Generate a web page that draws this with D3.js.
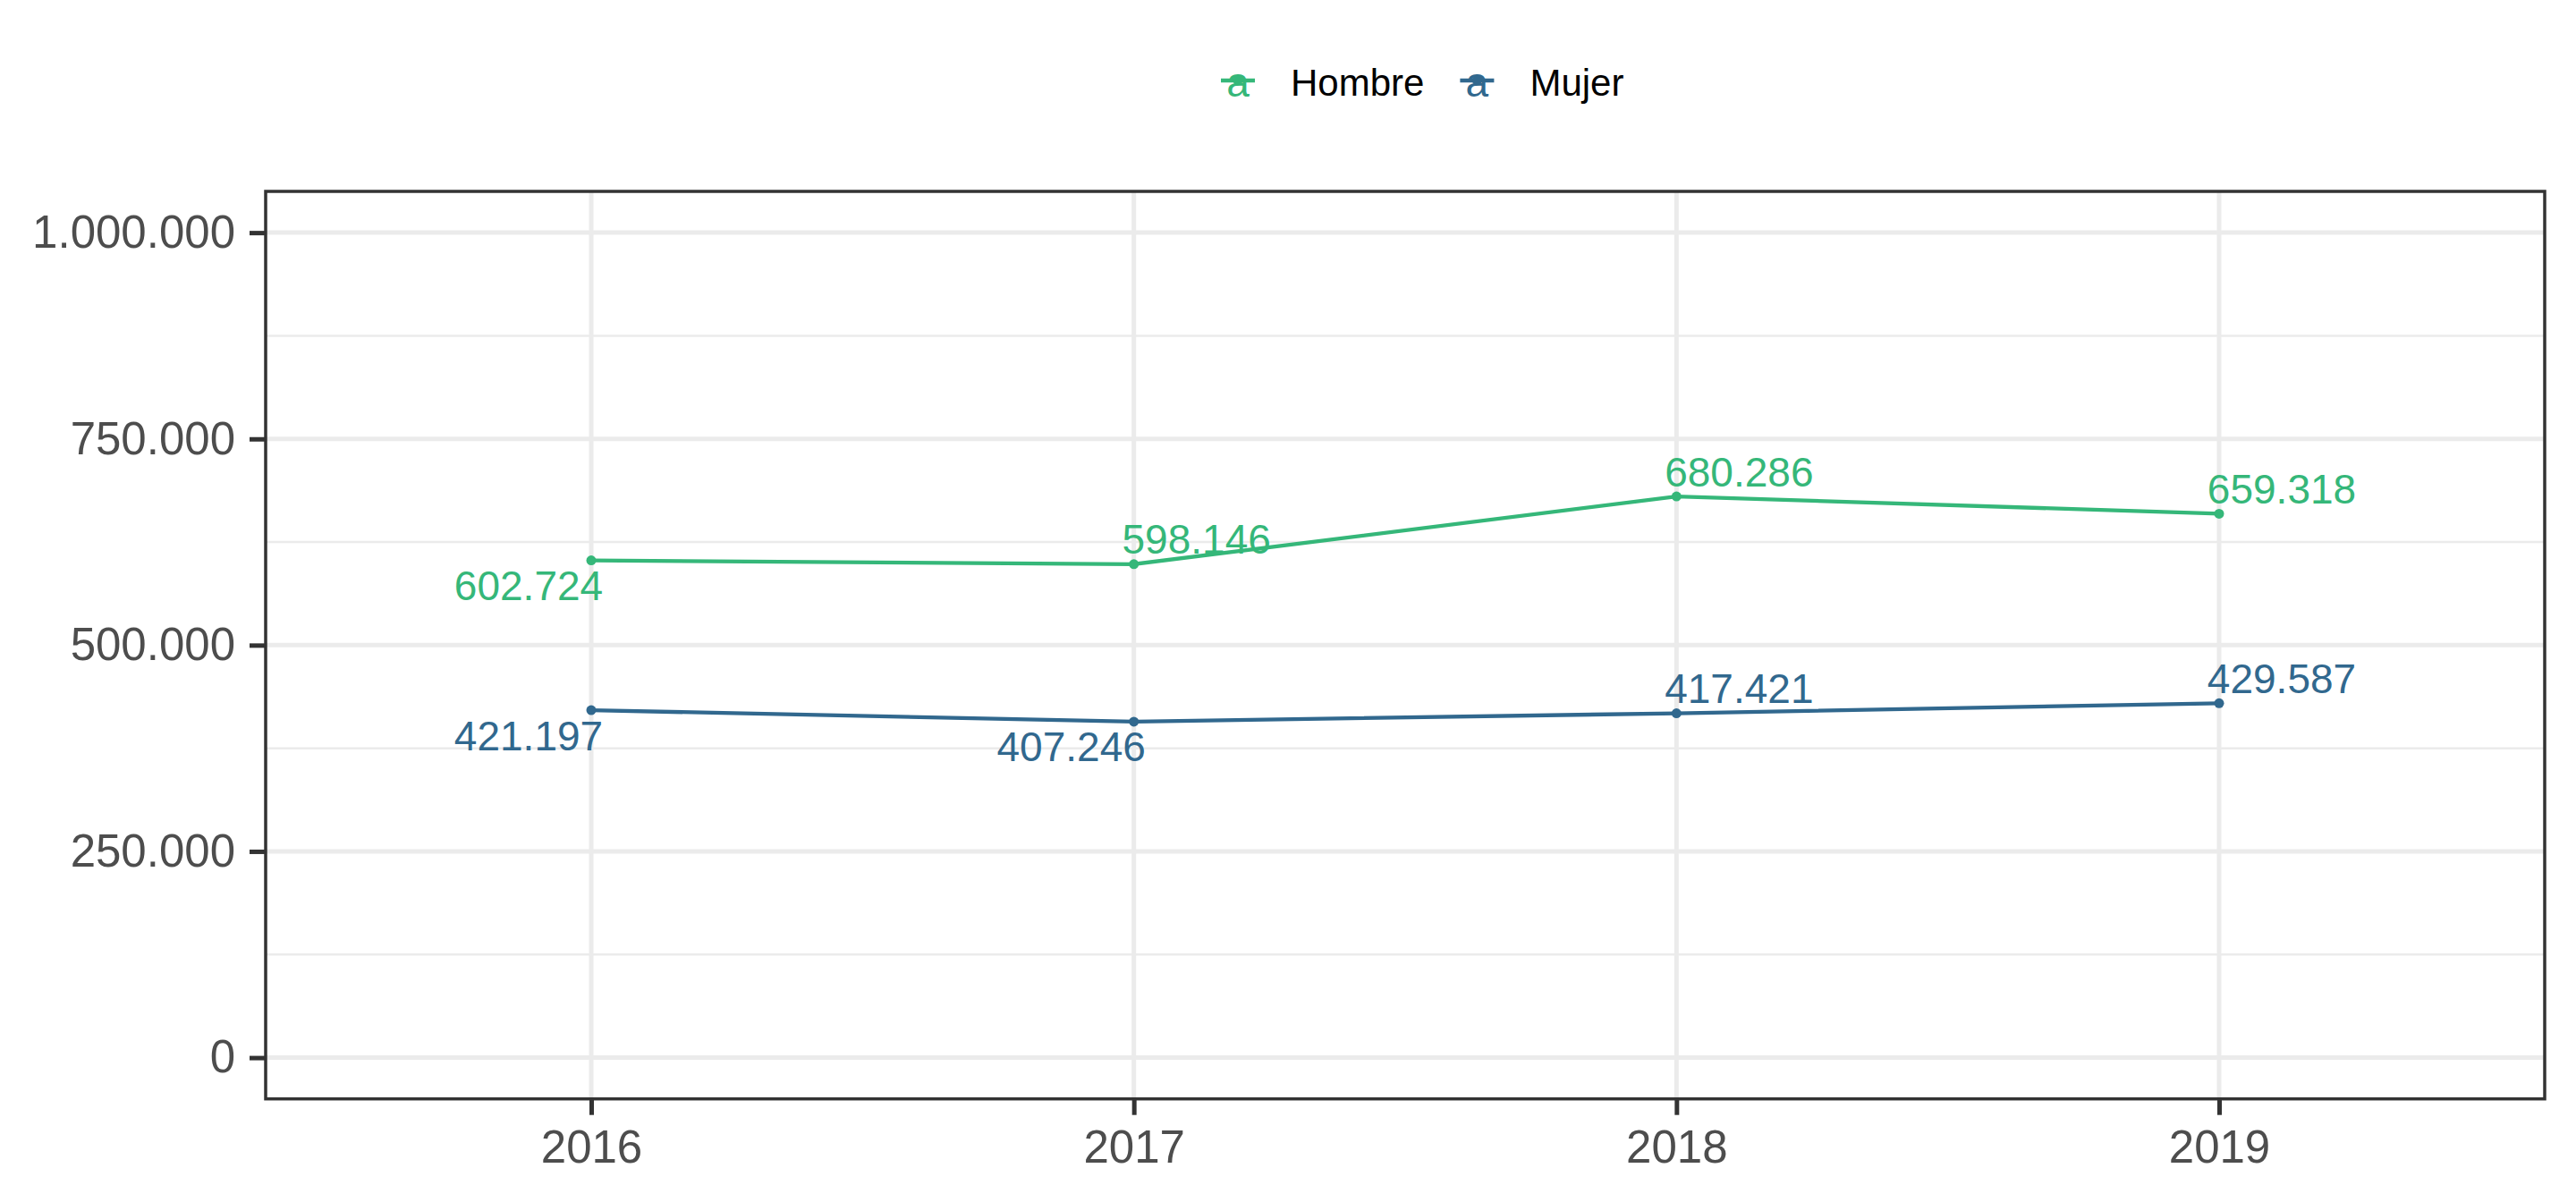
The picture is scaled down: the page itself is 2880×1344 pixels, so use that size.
<!DOCTYPE html>
<html>
<head>
<meta charset="utf-8">
<script src="https://cdn.jsdelivr.net/npm/d3@7"></script>
<style>
	html, body { margin: 0; padding: 0; background: white; }
	svg { display: block; font-family: "Liberation Sans", Arial, sans-serif; }
</style>
</head>
<body>
<script>
// datos
var years = ['2016', '2017', '2018', '2019']
var seriesNames = ['Hombre', 'Mujer']
var hombre = [602724, 598146, 680286, 659318]
var mujer = [421197, 407246, 417421, 429587]
var yTicks = [0, 250000, 500000, 750000, 1000000]
var yMinor = [125000, 375000, 625000, 875000]

// lado de la etiqueta: -1 abajo-izquierda, 1 arriba-derecha
var hombreSide = [-1, 1, 1, 1]
var mujerSide = [-1, -1, 1, 1]

var color = d3.scaleOrdinal()
	.domain(seriesNames)
	.range(['#35B779', '#31688E'])

var width = 2880,
	height = 1344

var panel = {left: 297, right: 2845, top: 214, bottom: 1228.7}

var loc = d3.formatLocale({decimal: ',', thousands: '.', grouping: [3], currency: ['', '']})
var fmt = loc.format(',')

var x = d3.scalePoint()
	.domain(years)
	.range([panel.left, panel.right])
	.padding(0.6)

var y = d3.scaleLinear()
	.domain([-50000, 1050000])
	.range([panel.bottom, panel.top])

var svg = d3.select('body').append('svg')
	.attr('width', width)
	.attr('height', height)

// grid
svg.selectAll('.minor')
	.data(yMinor)
	.enter()
	.append('line')
		.attr('x1', panel.left)
		.attr('x2', panel.right)
		.attr('y1', d => y(d))
		.attr('y2', d => y(d))
		.attr('stroke', '#EBEBEB')
		.attr('stroke-width', 2.5)

svg.selectAll('.major')
	.data(yTicks)
	.enter()
	.append('line')
		.attr('x1', panel.left)
		.attr('x2', panel.right)
		.attr('y1', d => y(d))
		.attr('y2', d => y(d))
		.attr('stroke', '#EBEBEB')
		.attr('stroke-width', 5)

svg.selectAll('.vgrid')
	.data(years)
	.enter()
	.append('line')
		.attr('x1', d => x(d))
		.attr('x2', d => x(d))
		.attr('y1', panel.top)
		.attr('y2', panel.bottom)
		.attr('stroke', '#EBEBEB')
		.attr('stroke-width', 5)

// series
var series = [
	{name: 'Hombre', values: hombre, side: hombreSide},
	{name: 'Mujer', values: mujer, side: mujerSide}
]

var line = d3.line()
	.x((d, i) => x(years[i]))
	.y(d => y(d))

series.forEach(function (s) {
	svg.append('path')
		.attr('d', line(s.values))
		.attr('fill', 'none')
		.attr('stroke', color(s.name))
		.attr('stroke-width', 4.3)

	svg.selectAll('.pt_' + s.name)
		.data(s.values)
		.enter()
		.append('circle')
			.attr('cx', (d, i) => x(years[i]))
			.attr('cy', d => y(d))
			.attr('r', 5.5)
			.attr('fill', color(s.name))

	svg.selectAll('.lbl_' + s.name)
		.data(s.values)
		.enter()
		.append('text')
			.attr('x', (d, i) => x(years[i]) + s.side[i] * 70)
			.attr('y', (d, i) => y(d) - s.side[i] * 28)
			.attr('dy', '0.36em')
			.attr('text-anchor', 'middle')
			.attr('font-size', 46)
			.attr('fill', color(s.name))
			.text(d => fmt(d))
})

// panel border
svg.append('rect')
	.attr('x', panel.left)
	.attr('y', panel.top)
	.attr('width', panel.right - panel.left)
	.attr('height', panel.bottom - panel.top)
	.attr('fill', 'none')
	.attr('stroke', '#333333')
	.attr('stroke-width', 3.5)

// axes
var yAxis = svg.append('g')
	.attr('transform', 'translate(' + panel.left + ',0)')
	.call(d3.axisLeft(y).tickValues(yTicks).tickFormat(fmt).tickSize(18).tickPadding(16))

var xAxis = svg.append('g')
	.attr('transform', 'translate(0,' + panel.bottom + ')')
	.call(d3.axisBottom(x).tickSize(18).tickPadding(17))

;[yAxis, xAxis].forEach(function (g) {
	g.select('.domain').remove()
	g.selectAll('.tick line')
		.attr('stroke', '#333333')
		.attr('stroke-width', 5)
	g.selectAll('.tick text')
		.attr('fill', '#4D4D4D')
		.attr('font-size', 51)
		.attr('font-family', '"Liberation Sans", Arial, sans-serif')
})

// legend
var legend = svg.append('g')
var lx = 1365
seriesNames.forEach(function (name) {
	legend.append('line')
		.attr('x1', lx)
		.attr('x2', lx + 38)
		.attr('y1', 90)
		.attr('y2', 90)
		.attr('stroke', color(name))
		.attr('stroke-width', 4.5)
	legend.append('circle')
		.attr('cx', lx + 19)
		.attr('cy', 90)
		.attr('r', 5.5)
		.attr('fill', color(name))
	legend.append('text')
		.attr('x', lx + 19)
		.attr('y', 108)
		.attr('text-anchor', 'middle')
		.attr('font-size', 46)
		.attr('fill', color(name))
		.text('a')
	var t = legend.append('text')
		.attr('x', lx + 78)
		.attr('y', 107)
		.attr('font-size', 42)
		.attr('fill', 'black')
		.text(name)
	lx = lx + 78 + t.node().getComputedTextLength() + 40
})
</script>
</body>
</html>
